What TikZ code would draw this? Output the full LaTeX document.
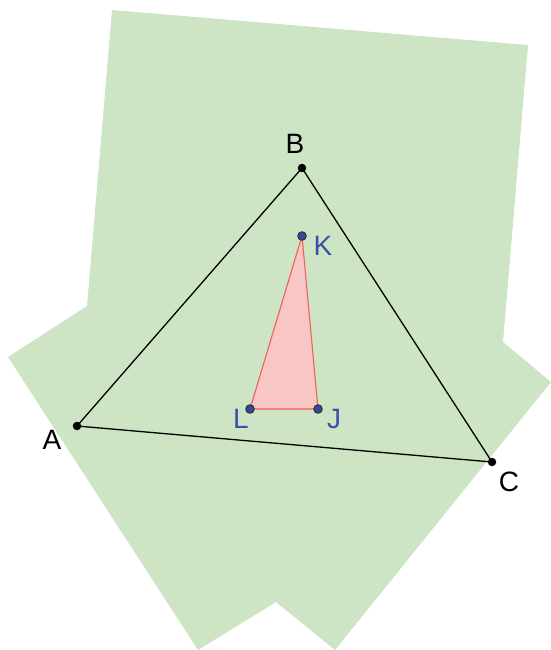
\documentclass[tikz,border=0pt]{standalone}
\usepackage{fontspec}
\setmainfont{Liberation Sans}
\definecolor{regiongreen}{HTML}{CDE5C4}
\definecolor{tripink}{HTML}{F9C6C6}
\definecolor{trired}{HTML}{F06058}
\definecolor{ptblue}{HTML}{2E4A9E}
\definecolor{lblblue}{HTML}{3A50A8}
\begin{document}
\begin{tikzpicture}[x=1pt,y=-1pt,
  blackpt/.style={circle,fill=black,inner sep=0pt,minimum size=8.5pt},
  bluept/.style={circle,fill=ptblue,draw=black!80,line width=1pt,inner sep=0pt,minimum size=8.5pt},
  blacklbl/.style={font=\fontsize{28}{28}\selectfont,text=black},
  bluelbl/.style={font=\fontsize{28}{28}\selectfont,text=lblblue}]
\useasboundingbox (0,0) rectangle (551,650);
\fill[regiongreen] (112,10) -- (528,45) -- (503,342) -- (551,382) -- (335,650) -- (276,602) -- (198,650) -- (8,357) -- (87,306) -- cycle;
\coordinate (A) at (77,426);
\coordinate (B) at (302,168);
\coordinate (C) at (492,462);
\coordinate (K) at (302,236);
\coordinate (L) at (250,409);
\coordinate (J) at (318,409);
\fill[tripink] (K) -- (J) -- (L) -- cycle;
\draw[trired,line width=1.1pt] (K) -- (J) -- (L) -- cycle;
\draw[black,line width=1.3pt] (A) -- (B) -- (C) -- cycle;
\node[blackpt] (pA) at (A) {};
\node[blackpt] (pB) at (B) {};
\node[blackpt] (pC) at (C) {};
\node[bluept] (pK) at (K) {};
\node[bluept] (pL) at (L) {};
\node[bluept] (pJ) at (J) {};
\node[blacklbl] (tA) at (52,440) {A};
\node[blacklbl] (tB) at (295,144) {B};
\node[blacklbl] (tC) at (509,482) {C};
\node[bluelbl] (tK) at (323,246) {K};
\node[bluelbl] (tL) at (241,419) {L};
\node[bluelbl] (tJ) at (334,419) {J};
\end{tikzpicture}
\end{document}
